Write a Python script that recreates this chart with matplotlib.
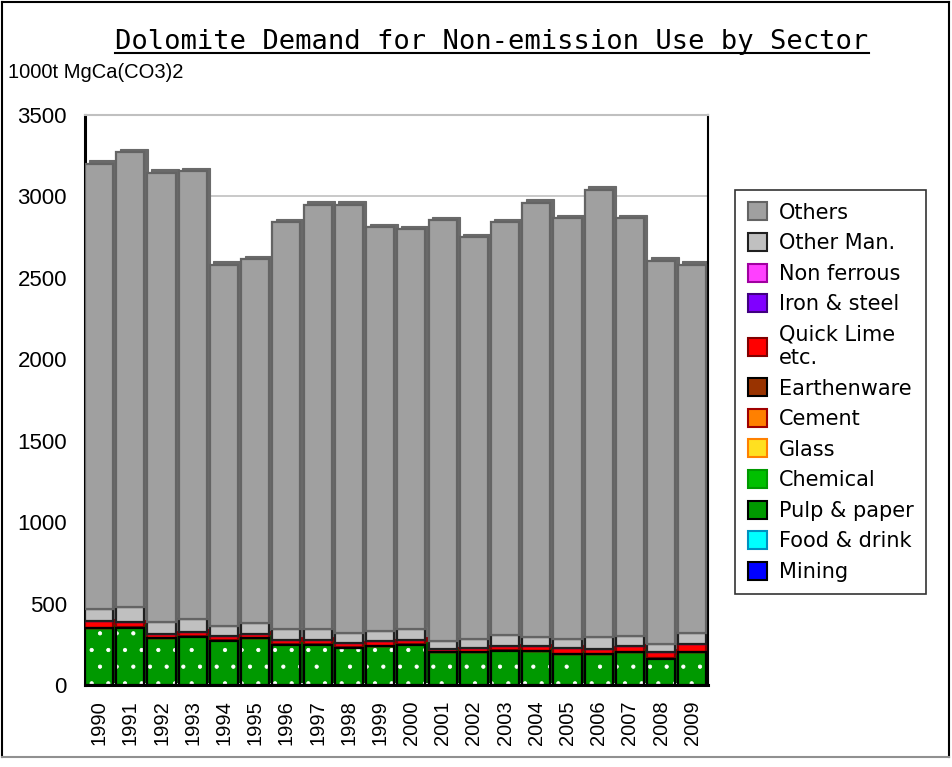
import matplotlib
matplotlib.use("Agg")
import matplotlib.pyplot as plt
import matplotlib.transforms as mtransforms
from matplotlib.patches import Patch
from matplotlib.lines import Line2D
import numpy as np

years = [str(y) for y in range(1990, 2010)]

mining      = [0] * 20
food_drink  = [0] * 20
pulp_paper  = [347, 353, 286, 296, 272, 286, 247, 247, 230, 237, 245, 200, 200, 210, 206, 189, 189, 200, 162, 200]
chemical    = [5, 5, 4, 4, 4, 4, 4, 4, 5, 4, 4, 4, 4, 4, 4, 4, 4, 4, 5, 4]
glass       = [0] * 20
cement      = [0] * 20
earthenware = [0] * 20
quick_lime  = [38, 27, 25, 27, 24, 25, 27, 27, 20, 28, 29, 16, 24, 24, 28, 35, 31, 34, 37, 45]
iron_steel  = [0] * 20
non_ferrous = [0] * 20
other_man   = [75, 92, 74, 76, 64, 63, 63, 63, 66, 62, 63, 49, 52, 68, 54, 54, 68, 64, 47, 68]
totals      = [3200, 3270, 3145, 3155, 2580, 2615, 2840, 2950, 2950, 2810,
               2800, 2855, 2750, 2840, 2960, 2865, 3040, 2865, 2605, 2580]

lower = [mining, food_drink, pulp_paper, chemical, glass, cement, earthenware,
         quick_lime, iron_steel, non_ferrous, other_man]
others = [t - sum(col) for t, col in zip(totals, zip(*lower))]

series = [
    ("Mining",          mining,      "#0000FF", "#000000", "#00008A"),
    ("Food & drink",    food_drink,  "#00FFFF", "#0090C0", "#009999"),
    ("Pulp & paper",    pulp_paper,  "#009900", "#000000", "#005500"),
    ("Chemical",        chemical,    "#00C000", "#009900", "#006600"),
    ("Glass",           glass,       "#FFE020", "#FF8000", "#AA9000"),
    ("Cement",          cement,      "#FF8000", "#A00000", "#A05000"),
    ("Earthenware",     earthenware, "#993300", "#000000", "#551800"),
    ("Quick Lime\netc.", quick_lime, "#FF0000", "#800000", "#900000"),
    ("Iron & steel",    iron_steel,  "#8000FF", "#400080", "#400080"),
    ("Non ferrous",     non_ferrous, "#FF40FF", "#A000A0", "#A000A0"),
    ("Other Man.",      other_man,   "#C0C0C0", "#202020", "#707070"),
    ("Others",          others,      "#A0A0A0", "#646464", "#6A6A6A"),
]

plt.rcParams['font.family'] = ['Liberation Sans', 'DejaVu Sans']
plt.rcParams['hatch.linewidth'] = 0.6

W, H = 952, 767
fig = plt.figure(figsize=(W/100, H/100), dpi=100)
ax = fig.add_axes([85/W, 1 - 685/H, (708 - 85)/W, (685 - 115)/H])

x = np.arange(len(years))
width = 0.9
depth = mtransforms.offset_copy(ax.transData, fig=fig, x=3.5, y=3.5, units='dots')

# back (3D side/top faces)
bottom = np.zeros(len(years))
for name, vals, fc, ec, side in series:
    v = np.array(vals, dtype=float)
    ax.bar(x, v, width, bottom=bottom, color=side, edgecolor=side, linewidth=0.8,
           transform=depth, zorder=2)
    bottom += v

# front faces
bottom = np.zeros(len(years))
for name, vals, fc, ec, side in series:
    v = np.array(vals, dtype=float)
    if name == "Pulp & paper":
        ax.bar(x, v, width, bottom=bottom, color=fc, edgecolor="white", linewidth=0,
               hatch='.', zorder=3)
        ax.bar(x, v, width, bottom=bottom, fill=False, edgecolor=ec, linewidth=1.6, zorder=4)
    else:
        ax.bar(x, v, width, bottom=bottom, color=fc, edgecolor=ec, linewidth=1.6, zorder=3)
    bottom += v

ax.set_xlim(-0.45, 19.5)
ax.set_ylim(0, 3500)
ax.set_yticks(np.arange(0, 3501, 500))
ax.set_xticks(x)
ax.set_xticklabels(years, rotation=90, fontsize=14.5)
ax.tick_params(axis='y', length=0, pad=13, labelsize=16)
ax.tick_params(axis='x', length=0, pad=11)
ax.yaxis.grid(True, color="#C0C0C0", linewidth=1.2, zorder=0)
ax.set_axisbelow(True)

for s in ['left', 'bottom']:
    ax.spines[s].set_color('black')
    ax.spines[s].set_linewidth(2.2)
ax.spines['top'].set_color('#C0C0C0')
ax.spines['top'].set_linewidth(1.5)
ax.spines['right'].set_color('black')
ax.spines['right'].set_linewidth(1.5)

fig.text(8/W, 1 - 78/H, "1000t MgCa(CO3)2", fontsize=14.5, ha='left', va='baseline')

title = fig.text(492/W, 1 - 42/H, "Dolomite Demand for Non-emission Use by Sector",
                 fontsize=19.5, family='DejaVu Sans Mono', ha='center', va='center')

handles = []
labels = []
for name, vals, fc, ec, side in reversed(series):
    handles.append(Patch(facecolor=fc, edgecolor=ec, linewidth=1.5))
    labels.append(name)

leg = fig.legend(handles, labels, loc='upper left',
                 bbox_to_anchor=(735/W, 1 - 190/H), bbox_transform=fig.transFigure,
                 prop={'family': 'DejaVu Sans', 'size': 15}, frameon=True, fancybox=False,
                 borderaxespad=0,
                 handlelength=0.95, handleheight=0.95, handletextpad=0.55,
                 labelspacing=0.5, borderpad=0.6)
leg.get_frame().set_edgecolor('black')
leg.get_frame().set_linewidth(1.2)

# outer border
def fline(xs, ys, color):
    fig.add_artist(Line2D([v / W for v in xs], [1 - v / H for v in ys],
                          transform=fig.transFigure, color=color, linewidth=1.5))
fline([2, 2], [2, 757], 'black')
fline([2, 949], [2, 2], 'black')
fline([949, 949], [2, 757], 'black')
fline([2, 949], [757, 757], '#909090')

# underline title
fig.canvas.draw()
bb = title.get_window_extent(fig.canvas.get_renderer())
inv = fig.transFigure.inverted()
(x0, y0), (x1, y1) = inv.transform([[bb.x0, bb.y0], [bb.x1, bb.y1]])
fig.add_artist(Line2D([x0, x1], [y0 + 0.002, y0 + 0.002], transform=fig.transFigure,
                      color='black', linewidth=1.5))

fig.savefig("out.png", dpi=100)
